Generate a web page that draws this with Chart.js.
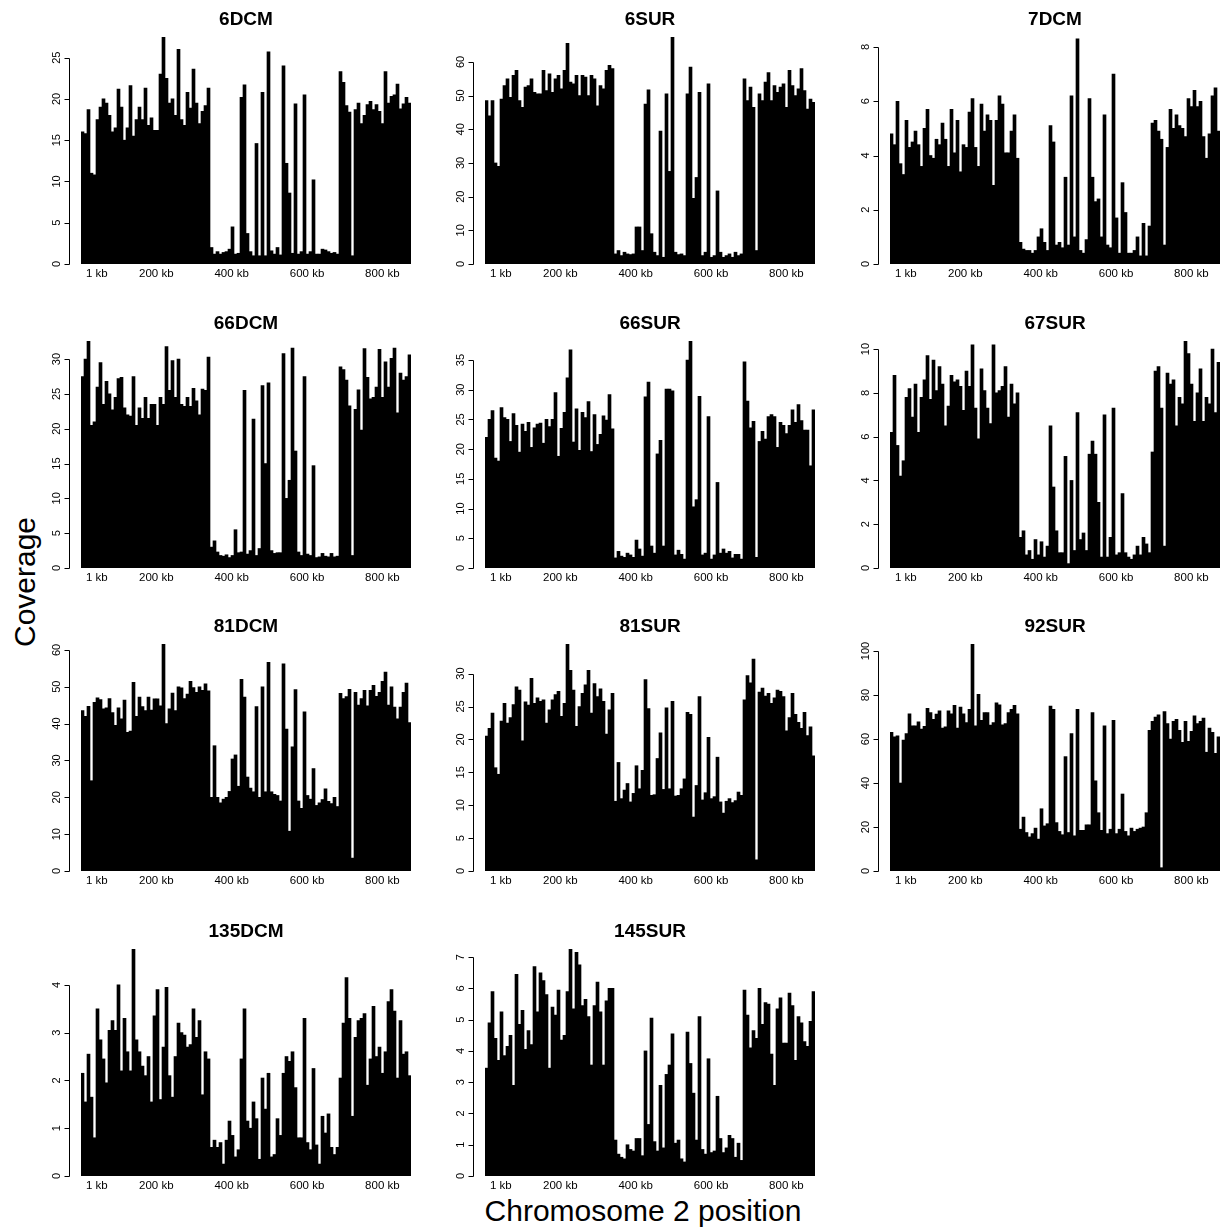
<!DOCTYPE html>
<html>
<head>
<meta charset="utf-8">
<title>Coverage along chromosome 2</title>
<script src="https://cdn.jsdelivr.net/npm/chart.js@4.4.1/dist/chart.umd.min.js"></script>
<style>
html,body{margin:0;padding:0;background:#fff;}
body{width:1221px;height:1229px;position:relative;overflow:hidden;font-family:"Liberation Sans",Arial,sans-serif;color:#000;}
.panel{position:absolute;}
#ylab{position:absolute;left:25px;top:582px;transform:translate(-50%,-50%) rotate(-90deg);font-size:30px;white-space:nowrap;}
#xlab{position:absolute;left:643px;top:1211px;transform:translate(-50%,-50%);font-size:30px;white-space:nowrap;}
</style>
</head>
<body>
<div id="ylab">Coverage</div>
<div id="xlab">Chromosome 2 position</div>
<script>
// coverage per window along chromosome 2 (110 windows)
const cov6DCM = [16,15.8,18.7,11,10.8,17.5,19,20,19.5,18, 16,16.5,21.2,19,15,16.5,21.6,15.5,17.5,19, 17.5,21.3,16.8,17.7,16.2,16.2,23,27.5,22.5,19.5, 20,18,26,17.5,16.8,20.8,18.9,23.6,19.5,17, 18.5,19.2,21.3,2,1.2,1.5,1.2,1.4,1.5,1.8, 4.5,1.2,1.3,20.2,21.7,3.7,1.5,1,14.6,1, 20.8,1,25.7,1.6,1.2,2,1.1,24,12.2,8.6, 1.3,19.4,1.2,1.5,20.5,1.2,1.5,10.2,1.2,1.2, 1.8,1.7,1.5,1.3,1.4,1.2,23.3,22,19.2,18.4, 1,18.7,19.5,17,18,19.3,19.7,18.7,19.3,18.5, 17,23.3,19.5,20.3,20.5,21.8,18.8,19.4,20.2,19.5]
const cov6SUR = [48.5,44,48.5,30,29,49,53,55,49.5,56, 57.5,48.5,46.5,52.5,53,55,51,50.5,50.5,57.5, 51.5,56.5,51,55,56,52,57.5,65.5,54,53.5, 56,50,56,55.5,50,56,55,47,53,52, 57.5,59,58,3,4,2.5,3.5,3,2.8,3, 11,11,4,47.5,51.7,9,3.5,2.5,39.5,2, 50.5,27.5,67.4,3.5,2.8,3,2.5,50.5,58.5,19.5, 25.7,51,2.5,3.5,53.5,2,2.5,21.7,3.5,2, 2.5,3,2,3.5,2.5,3,55,48.5,52.5,46.5, 4,50.5,48.5,54,56.8,48.5,53,51,52.5,53.5, 46.5,57.5,53,50,52,58,51.5,46,49,48]
const cov7DCM = [4.8,4.4,6.0,3.7,3.3,5.3,4.3,4.5,4.9,4.4, 3.6,5.0,5.7,4.0,3.9,4.6,4.4,5.2,4.6,3.6, 5.7,4.1,5.3,3.4,4.4,4.3,5.6,6.1,4.3,3.6, 5.9,4.9,5.5,5.3,2.9,5.3,6.2,5.9,4.1,4.1, 4.9,5.5,3.9,0.8,0.55,0.5,0.5,0.4,0.5,1.0, 1.3,0.8,0.5,5.1,4.5,0.7,0.8,0.6,3.2,0.7, 6.2,1.0,8.3,0.5,0.4,0.9,6.1,3.2,2.3,2.4, 1.0,5.5,0.7,0.6,7.0,1.7,0.4,3.0,1.9,0.4, 0.4,0.5,1.0,0.3,1.5,0.3,1.4,5.2,5.3,4.9, 4.6,0.7,4.3,5.7,5.0,5.5,5.1,5.0,4.7,6.1, 5.8,6.4,5.8,6.0,4.7,3.9,4.8,6.2,6.5,4.9]
const cov66DCM = [27.5,30,32.6,20.5,21,26,29.5,23.5,26.8,25, 22.7,24.5,27.2,27.4,23,22,21.8,27.5,20.5,23, 21.5,24.5,21.5,23.5,23.5,20.5,24.5,23.5,31.8,25.5, 29.8,24.5,30,23.5,23.2,24.5,23.2,25.8,24,22, 25.7,25.5,30.3,3,3.9,2.3,1.8,1.7,1.9,1.5, 1.8,5.5,2.2,2.3,25.5,2.0,2.5,21.4,1.8,2.8, 26.2,15,26.6,2.5,2.1,2.2,2.2,30.8,10,12.6, 31.6,16.8,2.3,1.8,27.5,2,1.8,14.7,1.5,1.6, 2.1,1.7,1.6,2.1,1.6,1.7,28.9,28.5,27,23.3, 1.8,22.8,25.6,19.8,31.5,27.4,24.3,24.5,26,31.4, 24.5,29.6,26,30.1,31.6,22.3,28,27,27.5,30.6]
const cov66SUR = [22,25,26.5,18.5,18,27,25.3,25,21.3,26, 24,19.5,24.2,23,24.5,20.3,23.6,24.2,24.4,21, 25,23.8,25,29.5,18.8,23.5,26.2,32,36.7,21.2, 26.8,19.8,26.2,25.3,28,19.6,25.8,20.8,22.5,25.6, 24.9,29.2,23.4,1.7,2.8,2,1.8,2.5,2.2,1.8, 4.7,3.2,2,28.8,31.3,3.7,2.5,19.2,21.5,3.7, 30.1,30.1,29.8,2.2,3,2.3,1.5,35,38.2,10.3, 11.5,28.9,2.2,2.5,25.5,1.5,2.2,14.4,2.5,3.2, 2.5,2.8,1.7,2.3,2.3,1.5,34.7,28.1,23.6,24.7, 1.8,21.3,23,21.7,25.5,25.8,25.5,20.3,24.5,24, 22.6,24,26.6,24.5,27.5,24.8,23.2,23.2,17.2,26.6]
const cov67SUR = [6.2,8.8,5.6,4.2,4.9,7.8,8.2,6.9,8.4,6.2, 7.8,8.6,9.7,7.7,9.5,8.1,9.2,8.4,6.5,7.4, 8.8,8.5,8.6,8.3,7.2,9.0,8.3,10.2,7.3,5.9, 9.1,8.1,7.3,6.6,10.2,8.0,8.1,8.3,9.2,6.9, 8.4,7.5,8.0,1.4,1.7,0.6,0.8,0.4,1.3,0.6, 1.2,0.5,1.0,6.5,3.7,1.7,0.7,0.7,5.1,0.2, 4.0,0.8,7.1,1.3,1.6,0.8,5.2,5.8,5.2,3.0, 0.5,7.0,0.5,1.4,7.3,0.6,0.7,3.4,0.7,0.5, 0.4,0.6,1.0,0.6,1.4,1.1,0.7,5.3,9.0,9.2, 7.3,1.0,8.9,8.4,8.6,6.5,7.8,7.5,10.4,9.8, 8.4,6.7,8.0,9.1,6.7,7.8,7.5,10.0,7.1,9.4]
const cov81DCM = [43.5,42,44.7,24.5,45.8,47,46.5,44,44.3,46.8, 43,39.5,44.3,41.3,46.4,37.6,38,51.2,42,47.2, 44.6,43.5,47.2,43.7,46.7,46.7,44.8,61.5,40,44, 48.3,43.5,50,49.7,46.8,48,51.5,49.8,48.5,50, 49,50.8,48.9,20,34,20,18.5,19.5,20,21.6, 30.4,31.5,23,52,47.2,25.5,22.5,21.5,44.6,20, 50,21.5,56.6,21.5,20.8,20.5,19,56.2,38.5,10.8, 33.7,49.2,19,17,43.2,20.5,19.5,27.8,17.8,18.5, 19.4,22.3,18.9,18.3,20,17.5,48.2,46.8,47.3,49.3, 3.5,48.5,45,46.8,49,44.8,49,50.4,47.4,48.5, 51.5,54,45,50,44.5,41.3,44.5,48.5,51,40.3]
const cov81SUR = [20.5,21.7,24,15.7,14.7,22.8,25.5,22.5,23.3,25.3, 28,27.5,19.8,25.7,25.2,29.3,25.5,26.3,25.8,26, 22.5,24.5,26,26.8,27.3,23.5,25.5,34.5,30.5,27.5, 22,25,27,28.3,30.5,24,28.5,26.5,27.7,25.8, 20.8,24.5,27,10.6,16.5,11,12.3,13.3,10.5,11.8, 16,12.5,15.3,29.1,24.7,11.5,11.6,17.1,21,12.4, 24.8,12.5,25.8,11.4,11.5,12.5,14,24.1,23.8,8.2, 13,26.5,10.8,11.9,20.3,11,11.3,17.3,10.5,8.8, 10.6,11,10.4,10.7,12,11.5,26,29.7,28.6,32.2, 1.7,27.2,27.8,26.6,27,25.5,26.3,27.5,27.3,26.5, 21.3,23.3,27,23.8,22.6,21.7,24.1,20.6,21.9,17.5]
const cov92SUR = [63,61,61.5,40,59.5,62.5,71.5,66,66,67.8, 64.5,65.8,74,72,69,71.3,72.8,65,65.5,72.8, 71.5,75.3,65,74.5,71.5,67.5,73.5,103,66,80.3, 68.5,72,72,66.3,67.5,76.5,75.5,66.5,67,72, 73.5,75.3,71.5,19,24.5,17.5,15.5,17,19.5,14.5, 28.3,20.5,21.5,75,73.5,22,18,16.5,52,17.5, 62.5,16,73.5,18.5,18.5,21,21,72,41,26.5, 18.5,66,17,19,68.5,17,19,35,18,16, 19.5,18,19,19.5,20,26.5,64,68,70,71, 1.5,72.5,67,60,68,69,64,58.5,68,59, 63.5,70.5,67,68,69.5,54,65,63,53.5,61]
const cov135DCM = [2.15,1.55,2.55,1.65,0.8,3.5,2.85,2.45,1.95,3.05, 3.25,3.05,4.0,2.2,3.3,2.6,2.2,4.75,2.85,2.6, 2.3,2.1,2.5,1.55,3.35,3.9,1.6,2.7,3.95,2.1, 1.65,2.5,3.2,3.0,2.95,2.7,2.75,3.5,2.9,3.25, 1.7,2.6,2.45,0.6,0.75,0.6,0.7,0.25,0.75,1.15, 0.85,0.4,0.55,2.45,3.5,1.15,1.0,1.55,1.2,0.35, 2.05,1.4,2.15,0.4,0.45,1.2,0.85,2.15,2.5,2.4, 2.6,1.85,0.8,0.8,3.3,0.7,0.55,2.25,0.65,0.25, 1.25,0.9,1.3,0.6,0.45,0.6,2.05,3.2,4.15,3.3, 1.25,2.9,3.25,3.3,3.4,1.9,2.45,3.55,2.5,2.7, 2.15,2.6,3.65,3.9,3.45,2.05,3.25,2.55,2.6,2.1]
const cov145SUR = [3.45,4.9,5.9,4.4,3.7,5.25,3.85,4.15,4.5,2.9, 6.45,4.85,5.3,4.05,4.65,4.2,6.7,5.25,6.5,6.25, 5.8,3.45,5.4,5.15,5.95,4.35,4.5,5.9,7.25,5.35, 7.15,6.75,5.45,5.65,5.1,3.55,5.45,6.2,5.25,3.55, 5.6,6.0,6.0,1.15,0.7,0.6,0.55,1.0,0.85,0.8, 1.2,1.2,0.65,4.0,1.65,5.05,1.1,0.8,2.9,0.9, 3.25,3.55,4.55,1.05,1.15,0.55,0.45,4.6,3.6,2.65, 1.15,5.1,0.85,0.7,3.75,0.75,0.8,2.55,1.2,0.75, 0.9,1.3,1.2,0.6,1.05,0.5,5.95,5.15,4.1,4.65, 4.4,6.0,4.85,5.55,5.5,3.9,2.9,5.35,5.7,4.25, 4.25,5.85,5.45,3.7,5.1,4.9,4.3,4.15,4.95,5.9]

// y tick labels of each panel
const ticks6DCM = [0,5,10,15,20,25]
const ticks6SUR = [0,10,20,30,40,50,60]
const ticks7DCM = [0,2,4,6,8]
const ticks66DCM = [0,5,10,15,20,25,30]
const ticks66SUR = [0,5,10,15,20,25,30,35]
const ticks67SUR = [0,2,4,6,8,10]
const ticks81DCM = [0,10,20,30,40,50,60]
const ticks81SUR = [0,5,10,15,20,25,30]
const ticks92SUR = [0,20,40,60,80,100]
const ticks135DCM = [0,1,2,3,4]
const ticks145SUR = [0,1,2,3,4,5,6,7]

// x tick labels (position along the chromosome, kb)
const kbTicks = [42,200,400,600,800]
const kbLabels = ['1 kb','200 kb','400 kb','600 kb','800 kb']
const chrLengthKb = 876

const panels = [
  {title:'6DCM', cov:cov6DCM, ticks:ticks6DCM, top:27.5},
  {title:'6SUR', cov:cov6SUR, ticks:ticks6SUR, top:67.4},
  {title:'7DCM', cov:cov7DCM, ticks:ticks7DCM, top:8.37},
  {title:'66DCM', cov:cov66DCM, ticks:ticks66DCM, top:32.6},
  {title:'66SUR', cov:cov66SUR, ticks:ticks66SUR, top:38.2},
  {title:'67SUR', cov:cov67SUR, ticks:ticks67SUR, top:10.37},
  {title:'81DCM', cov:cov81DCM, ticks:ticks81DCM, top:61.6},
  {title:'81SUR', cov:cov81SUR, ticks:ticks81SUR, top:34.5},
  {title:'92SUR', cov:cov92SUR, ticks:ticks92SUR, top:103.2},
  {title:'135DCM', cov:cov135DCM, ticks:ticks135DCM, top:4.75},
  {title:'145SUR', cov:cov145SUR, ticks:ticks145SUR, top:7.26}
]

// page layout (plot area of each panel)
const colLeft = [81,485,890]
const rowBottom = [264,568,871,1176]
const plotW = 330, plotH = 227
const padL = 60, padT = 40, padR = 6, padB = 26
const FONT = '"Liberation Sans", Arial, sans-serif'

// base R look: detached y axis with rotated labels, title, kb labels
const rAxes = {
  id:'rAxes',
  afterDraw(chart, args, opts){
    const ctx = chart.ctx
    const a = chart.chartArea
    const y = chart.scales.y
    const kb = chart.scales.kb
    ctx.save()
    ctx.fillStyle = '#000'
    ctx.strokeStyle = '#000'
    ctx.lineWidth = 1
    ctx.textAlign = 'center'
    ctx.textBaseline = 'middle'
    ctx.font = 'bold 19px ' + FONT
    ctx.fillText(opts.title, (a.left + a.right) / 2, a.top - 17)
    const t = opts.ticks
    const ax = Math.round(a.left - 12) + 0.5
    ctx.beginPath()
    ctx.moveTo(ax, Math.round(y.getPixelForValue(t[0])) + 0.5)
    ctx.lineTo(ax, Math.round(y.getPixelForValue(t[t.length-1])) + 0.5)
    t.forEach(v=>{
      const py = Math.round(y.getPixelForValue(v)) + 0.5
      ctx.moveTo(ax - 5, py)
      ctx.lineTo(ax, py)
    })
    ctx.stroke()
    ctx.font = '11px ' + FONT
    t.forEach(v=>{
      ctx.save()
      ctx.translate(ax - 13, y.getPixelForValue(v))
      ctx.rotate(-Math.PI/2)
      ctx.fillText(String(v), 0, 0)
      ctx.restore()
    })
    ctx.font = '11.5px ' + FONT
    opts.kbTicks.forEach((v,i)=>{
      ctx.fillText(opts.kbLabels[i], kb.getPixelForValue(v), a.bottom + 10)
    })
    ctx.restore()
  }
}

panels.forEach((p,idx)=>{
  const col = idx % 3
  const row = Math.floor(idx / 3)
  const box = document.createElement('div')
  box.className = 'panel'
  box.style.left = (colLeft[col] - padL) + 'px'
  box.style.top = (rowBottom[row] - plotH - padT) + 'px'
  const cv = document.createElement('canvas')
  cv.width = padL + plotW + padR
  cv.height = padT + plotH + padB
  box.appendChild(cv)
  document.body.appendChild(box)
  new Chart(cv,{
    type:'bar',
    data:{
      labels:p.cov.map((v,i)=>'window ' + (i + 1)),
      datasets:[{data:p.cov, backgroundColor:'#000', borderWidth:0, categoryPercentage:1, barPercentage:1}]
    },
    options:{
      responsive:false,
      animation:false,
      devicePixelRatio:1,
      layout:{padding:{left:padL, top:padT, right:padR, bottom:padB}},
      plugins:{
        legend:{display:false},
        tooltip:{enabled:false},
        rAxes:{title:p.title, ticks:p.ticks, kbTicks:kbTicks, kbLabels:kbLabels}
      },
      scales:{
        x:{display:false, offset:true},
        kb:{type:'linear', axis:'x', position:'bottom', display:false, min:0, max:chrLengthKb, offset:false},
        y:{display:false, min:0, max:p.top}
      }
    },
    plugins:[rAxes]
  })
})
</script>
</body>
</html>
